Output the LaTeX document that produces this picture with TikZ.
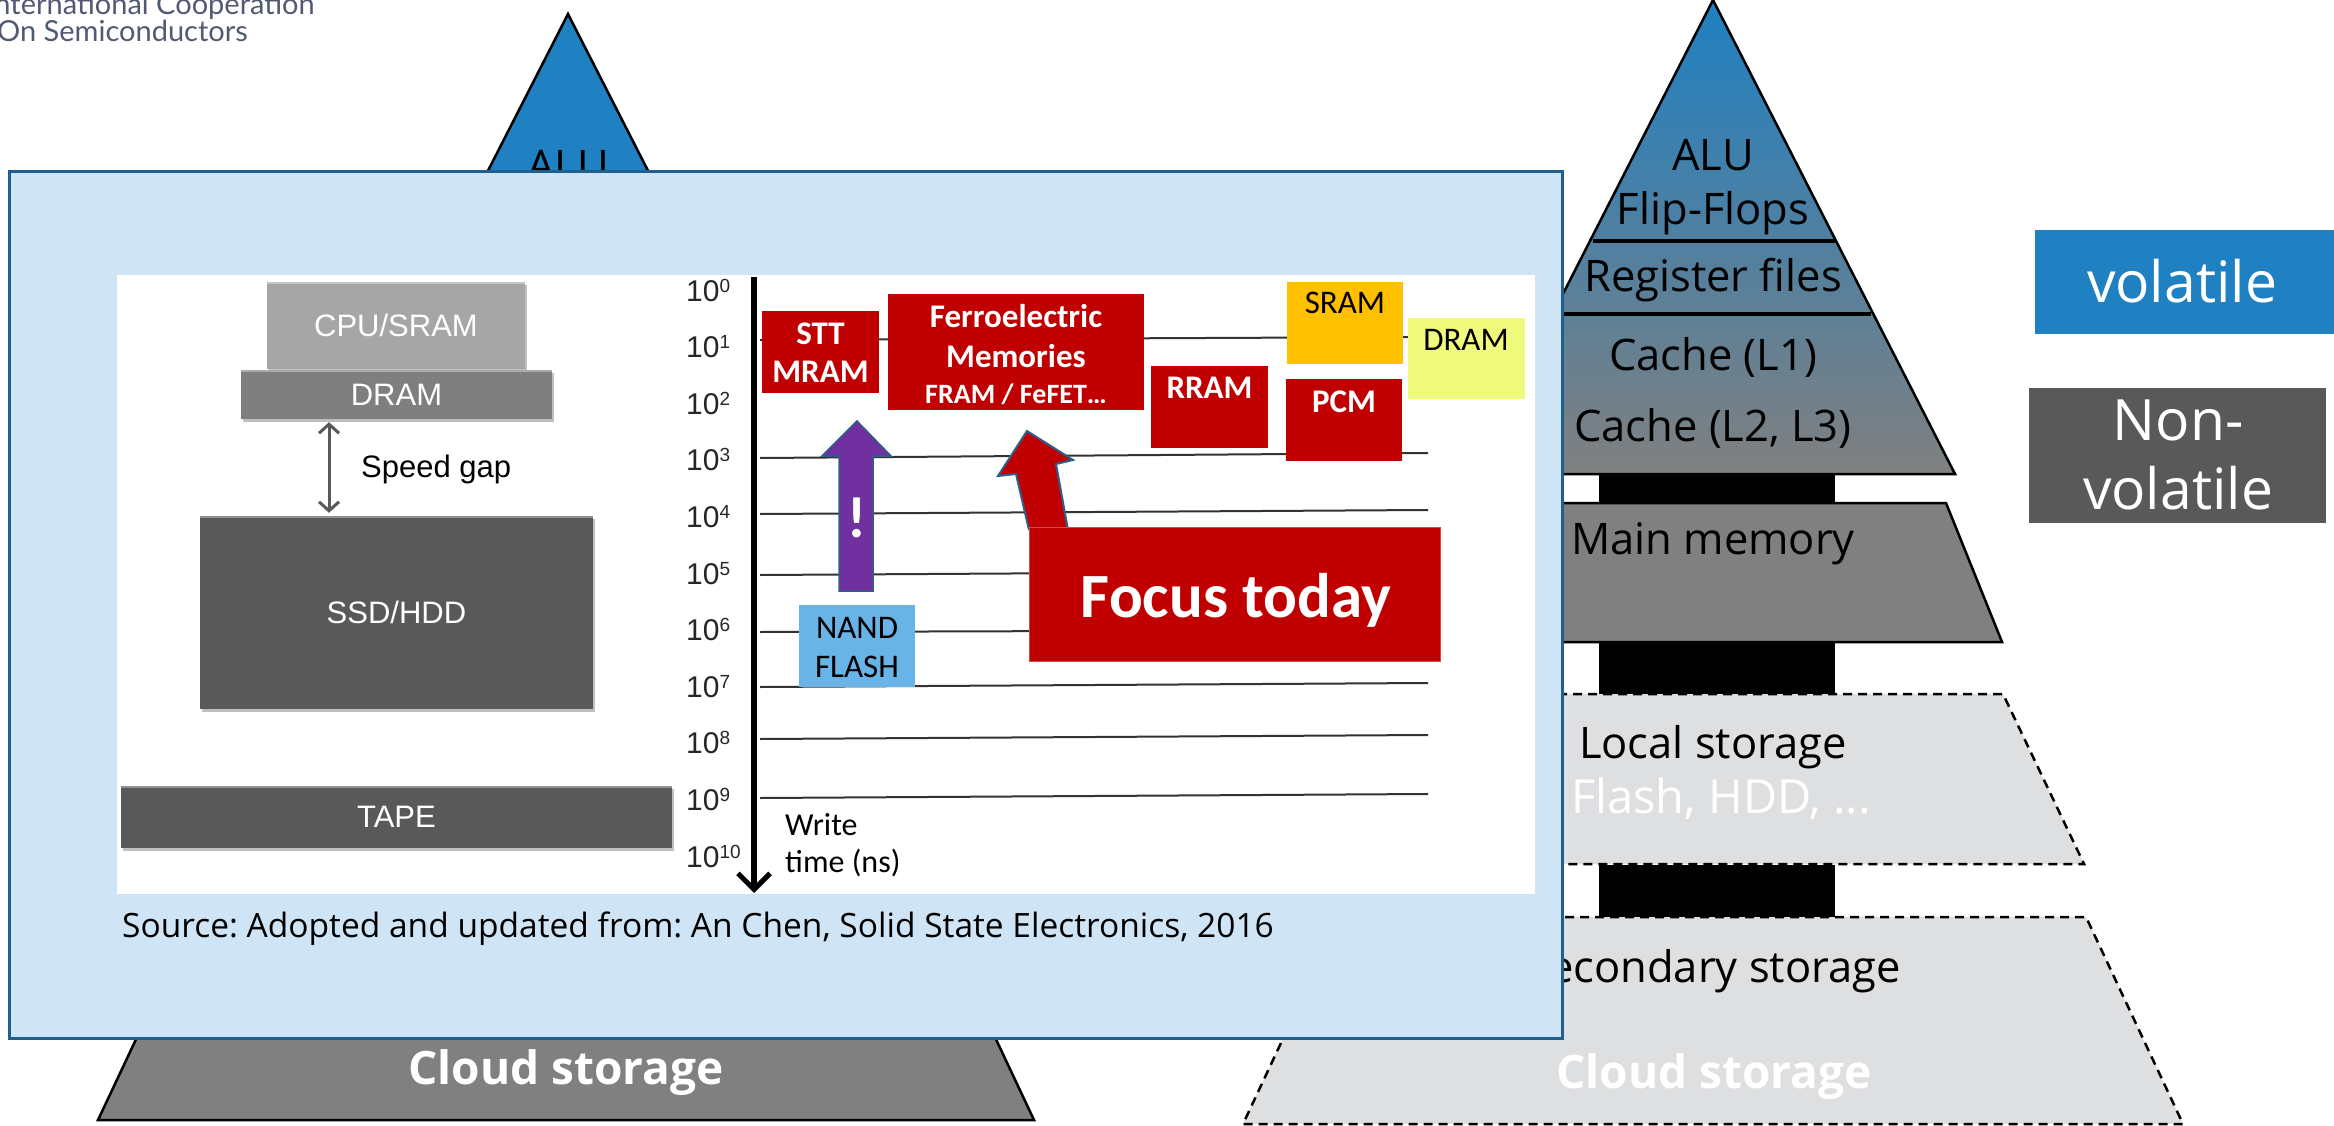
\documentclass[tikz,border=0pt]{standalone}
\usepackage{fontspec}
\setmainfont{Open Sans}
\newfontfamily\calfont{Carlito}
\newfontfamily\arialfont{Liberation Sans}
\newfontfamily\logofont{Lato}
\usetikzlibrary{arrows.meta,shadows}
\frenchspacing

\definecolor{pyrblue}{RGB}{31,128,194}
\definecolor{pyrmid}{RGB}{96,122,152}
\definecolor{pyrgray}{RGB}{128,128,128}
\definecolor{storegray}{RGB}{222,223,225}
\definecolor{nvgray}{RGB}{89,89,89}
\definecolor{panelblue}{RGB}{207,228,244}
\definecolor{paneledge}{RGB}{31,96,142}
\definecolor{memred}{RGB}{192,0,0}
\definecolor{sramorange}{RGB}{255,192,0}
\definecolor{dramyellow}{RGB}{240,250,125}
\definecolor{nandblue}{RGB}{104,180,230}
\definecolor{exclpurple}{RGB}{112,48,160}
\definecolor{calloutedge}{RGB}{46,94,138}
\definecolor{logotext}{RGB}{80,90,115}
\definecolor{cpugray}{RGB}{166,166,166}
\definecolor{dramgray}{RGB}{127,127,127}
\definecolor{diskgray}{RGB}{89,89,89}

\newcommand{\fsz}[2]{\fontsize{#1}{#2}\selectfont}

\tikzset{
  pyrtext/.style={font=\fsz{43.5}{50}, anchor=base, inner sep=0pt},
  pyrwhite/.style={pyrtext, text=white},
  pyrbold/.style={pyrwhite, font=\bfseries\fsz{46}{52}},
  outline/.style={draw=black, line width=2.5pt},
  storage/.style={fill=storegray, draw=black, line width=2.5pt, dash pattern=on 9pt off 6pt},
  sidebox/.style={text=white, font=\fsz{57}{68}, inner sep=0pt, align=center},
  tier/.style={text=white, font=\arialfont\fsz{31}{36}, inner sep=0pt,
    drop shadow={shadow xshift=2pt, shadow yshift=-3pt, fill=black, opacity=0.25},
    path picture={\draw[white, opacity=0.35, line width=2pt]
      ([yshift=-1pt]path picture bounding box.north west) --
      ([yshift=-1pt]path picture bounding box.north east);}},
  membox/.style={inner sep=0pt, outer sep=0pt},
  memtext/.style={font=\calfont\bfseries\fsz{33}{38}, text=white, anchor=base, inner sep=0pt},
  plaintext/.style={font=\calfont\fsz{33}{38}, text=black, anchor=base, inner sep=0pt},
  tick/.style={font=\arialfont\fsz{30}{34}, text=black!85, anchor=base west, inner sep=0pt},
  grid/.style={draw=black!80, line width=2pt},
}

\begin{document}
\begin{tikzpicture}[x=1pt,y=-1pt]
\path[use as bounding box] (0,0) rectangle (2334,1126);
\clip (0,0) rectangle (2334,1126);

% ---------- logo text, top left
\node[anchor=base east, font=\logofont\fsz{29}{34}, text=logotext, inner sep=0pt] (logoA) at (315,15) {International Cooperation};
\node[anchor=base west, font=\logofont\fsz{29}{34}, text=logotext, inner sep=0pt] (logoB) at (-3,42) {On Semiconductors};

% ---------- left pyramid (mostly covered by the panel)
\filldraw[fill=pyrblue, outline] (568,14) -- (811,490) -- (325,490) -- cycle;
\node[pyrtext] (lalu) at (568,182) {ALU};
\filldraw[fill=pyrgray, outline] (187,931) -- (945,931) -- (1034,1120) -- (98,1120) -- cycle;
\node[pyrbold] (lcloud) at (566,1084) {Cloud storage};

% ---------- right pyramid: registers and caches
\shade[top color=pyrblue, middle color=pyrmid, bottom color=pyrgray] (1713,0) -- (1955,474) -- (1471,474) -- cycle;
\draw[outline] (1713,0) -- (1955,474) -- (1471,474) -- cycle;
\draw[line width=4pt] (1593,241) -- (1835,241);
\draw[line width=4pt] (1555,314) -- (1871,314);

% main memory and storage levels
\filldraw[fill=pyrgray, outline] (1480,503) -- (1946,503) -- (2002,642) -- (1424,642) -- cycle;
\filldraw[storage] (1423,694) -- (2003,694) -- (2084,864) -- (1342,864) -- cycle;
\filldraw[storage] (1340,917) -- (2086,917) -- (2183,1124) -- (1243,1124) -- cycle;
\fill[black] (1599,474) rectangle (1835,503);
\fill[black] (1599,643) rectangle (1835,694);
\fill[black] (1599,865) rectangle (1835,917);

\node[pyrtext] (ralu) at (1713,171) {ALU};
\node[pyrtext] (rff) at (1713,225) {Flip-Flops};
\node[pyrtext] (rreg) at (1713,291) {Register files};
\node[pyrtext] (rl1) at (1713,370) {Cache (L1)};
\node[pyrtext] (rl23) at (1713,441) {Cache (L2, L3)};
\node[pyrtext] (rmain) at (1713,554) {Main memory};
\node[pyrtext] (rlocal) at (1713,758) {Local storage};
\node[pyrwhite, font=\fsz{47}{52}] (rflash) at (1721,813) {Flash, HDD, ...};
\node[pyrtext] (rsec) at (1713,982) {Secondary storage};
\node[pyrbold] (rcloud) at (1714,1088) {Cloud storage};

% ---------- volatility legend
\node[sidebox, fill=pyrblue, minimum width=299pt, minimum height=104pt] (vol) at (2184.5,282) {};
\node[sidebox, anchor=base] (volt) at (2182,302) {volatile};
\node[sidebox, fill=nvgray, minimum width=297pt, minimum height=135pt] (nonvol) at (2177.5,455.5) {};
\node[sidebox, anchor=base] (nonvolA) at (2178,440) {Non-};
\node[sidebox, anchor=base] (nonvolB) at (2178,509) {volatile};

% ---------- overlay panel
\node[draw=paneledge, line width=3pt, fill=panelblue, minimum width=1553pt, minimum height=866pt, inner sep=0pt] (panel) at (785.5,605) {};
\node[fill=white, minimum width=1418pt, minimum height=619pt, inner sep=0pt] (chart) at (826,584.5) {};

% left: classic storage stack
\node[tier, fill=cpugray, minimum width=258pt, minimum height=87pt] (cpu) at (396,325.5) {CPU/SRAM};
\node[tier, fill=dramgray, minimum width=311pt, minimum height=49pt] (dram) at (396.5,394.5) {DRAM};
\node[tier, fill=diskgray, minimum width=393pt, minimum height=193pt] (ssd) at (396.5,612.5) {SSD/HDD};
\node[tier, fill=diskgray, minimum width=551pt, minimum height=62pt] (tape) at (396.5,817) {TAPE};
\coordinate (gapline) at (329,0);
\draw[diskgray, line width=3pt, shorten <=3pt, shorten >=3pt,
  {Straight Barb[length=9pt,width=20pt]}-{Straight Barb[length=9pt,width=20pt]}]
  (dram.south -| gapline) -- (ssd.north -| gapline);
\node[anchor=base west, font=\arialfont\fsz{31}{36}, inner sep=0pt] (gaplabel) at (361,477) {Speed gap};

% right: write-time scale
\foreach \i/\yl/\yr in {1/340/337, 3/458/453, 4/514/510, 5/575/571, 6/632/630, 7/687/683, 8/739/735, 9/798/794}
  \draw[grid] (760,\yl) -- (1428,\yr);
\foreach \i in {0,...,10}
  \node[tick] (tick\i) at (686,{301+56.6*\i}) {10\raisebox{9pt}{\fsz{19}{20}\i}};
\coordinate (axtop) at (754,277);
\coordinate (axbot) at (754,893);
\draw[line width=6pt, -{Straight Barb[length=16pt,width=32pt,line width=5pt]}] (axtop) -- (axbot);
\node[plaintext, font=\calfont\fsz{32}{38}, anchor=base west] (writeA) at (785,835) {Write};
\node[plaintext, font=\calfont\fsz{32}{38}, anchor=base west] (writeB) at (785,872) {time (ns)};

% memory technologies
\node[membox, fill=memred, minimum width=117pt, minimum height=82pt] (stt) at (820.5,352) {};
\node[memtext] (sttA) at (820.5,344) {STT};
\node[memtext] (sttB) at (820.5,382) {MRAM};
\node[membox, fill=memred, minimum width=256pt, minimum height=116pt] (fe) at (1016,352) {};
\node[memtext] (feA) at (1016,327) {Ferroelectric};
\node[memtext] (feB) at (1016,367) {Memories};
\node[memtext, font=\calfont\bfseries\fsz{28}{32}] (feC) at (1016,403) {FRAM / FeFET…};
\node[membox, fill=memred, minimum width=117pt, minimum height=82pt] (rram) at (1209.5,407) {};
\node[memtext] (rramt) at (1209.5,398) {RRAM};
\node[membox, fill=sramorange, minimum width=116pt, minimum height=82pt] (sram) at (1345,323) {};
\node[plaintext] (sramt) at (1345,313) {SRAM};
\node[membox, fill=memred, minimum width=116pt, minimum height=82pt] (pcm) at (1344,420) {};
\node[memtext] (pcmt) at (1344,412) {PCM};
\node[membox, fill=dramyellow, minimum width=117pt, minimum height=81pt] (dramt) at (1466.5,358.5) {};
\node[plaintext] (dramtt) at (1466,350) {DRAM};
\node[membox, fill=nandblue, minimum width=116pt, minimum height=82pt] (nand) at (857,646) {};
\node[plaintext] (nandA) at (857,638) {NAND};
\node[plaintext] (nandB) at (857,677) {FLASH};

% NAND -> STT arrow
\filldraw[fill=exclpurple, draw=calloutedge, line width=1.5pt, line join=miter]
  (839,591) -- (839,456) -- (822,456) -- (857,421) -- (891,456) -- (873,456) -- (873,591) -- cycle;
\node[memtext, font=\calfont\bfseries\fsz{58}{60}] (excl) at (857,537) {!};

% callout
\filldraw[fill=memred, draw=calloutedge, line width=2pt, line join=miter]
  (1029,530) -- (1016,474) -- (998,476) -- (1027,431) -- (1073,460) -- (1056,464) -- (1068,530);
\node[membox, fill=memred, draw=memred!70!white, line width=1pt, minimum width=411pt, minimum height=134pt] (focus) at (1234.5,594) {};
\node[memtext, font=\calfont\bfseries\fsz{63}{70}] (focust) at (1236,617) {Focus today};

% source line
\node[anchor=base west, font=\fsz{33.5}{38}, inner sep=0pt] (source) at (122,937) {Source: Adopted and updated from: An Chen, Solid State Electronics, 2016};
\end{tikzpicture}
\end{document}
